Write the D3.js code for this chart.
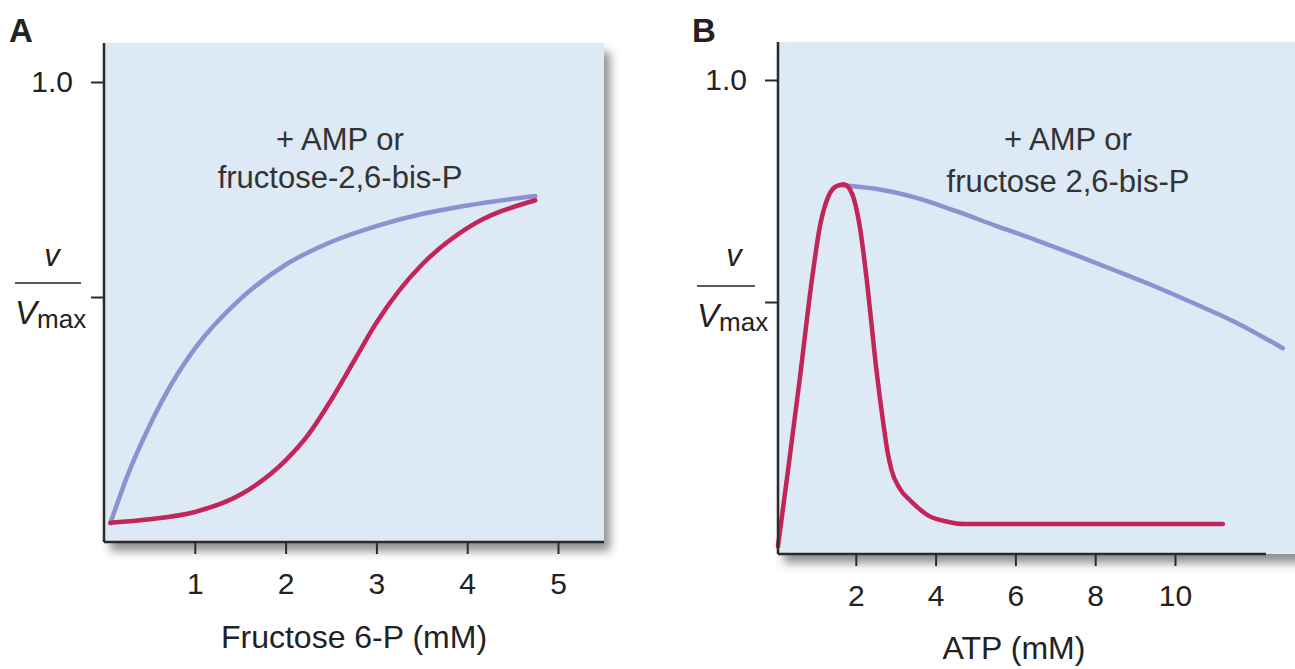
<!DOCTYPE html>
<html>
<head>
<meta charset="utf-8">
<script src="https://cdn.jsdelivr.net/npm/d3@7"></script>
<style>
    body { margin: 0; background: #fff; }
    svg { display: block; font-family: "Liberation Sans", Arial, Helvetica, sans-serif; }
</style>
</head>
<body>
<div id="chart"></div>
<script>
/* ----------------------------------------------------- Data ------------------------------------------------------------------------- */

// Panel A: v/Vmax against fructose 6-P (mM)
const aTicksX = [1, 2, 3, 4, 5];
const aBlueX = [0.07, 0.25, 0.5, 0.75, 1, 1.5, 2, 2.5, 3, 3.5, 4, 4.75];
const aBlueY = [-0.026, 0.08, 0.2, 0.3, 0.38, 0.495, 0.575, 0.628, 0.665, 0.693, 0.713, 0.735];
const aRedX = [0.07, 0.5, 1, 1.5, 2, 2.25, 2.5, 2.75, 3, 3.25, 3.5, 4, 4.75];
const aRedY = [-0.025, -0.017, 0.0, 0.04, 0.12, 0.18, 0.26, 0.35, 0.44, 0.515, 0.575, 0.66, 0.725];

// Panel B: v/Vmax against ATP (mM)
const bTicksX = [2, 4, 6, 8, 10];
const bBlueX = [1.6, 2.5, 3.5, 4.5, 5.5, 6.5, 7.5, 8.5, 9.5, 10.5, 11.5, 12.7];
const bBlueY = [0.763, 0.755, 0.735, 0.705, 0.672, 0.64, 0.606, 0.571, 0.535, 0.496, 0.455, 0.396];
const bRedX = [0.05, 0.3, 0.6, 0.9, 1.1, 1.3, 1.5, 1.7, 1.9, 2.1, 2.3, 2.5, 2.7, 2.8, 2.9, 3.1, 3.4, 3.8, 4.3, 4.7, 11.2];
const bRedY = [-0.05, 0.12, 0.33, 0.55, 0.67, 0.735, 0.76, 0.765, 0.745, 0.67, 0.53, 0.36, 0.22, 0.16, 0.12, 0.08, 0.05, 0.02, 0.005, 0.0, 0.0];

const ticksY = [0.5, 1.0];
const annotationA = ['+ AMP or', 'fructose-2,6-bis-P'];
const annotationB = ['+ AMP or', 'fructose 2,6-bis-P'];

/* ----------------------------------------------------- Drawing ---------------------------------------------------------------------- */

const width = 1295, height = 669;
const blue = '#8e90d0', red = '#c3245a', boxFill = '#dde9f5', axisColor = '#2b2b2b';

const svg = d3.select('#chart').append('svg')
    .attr('width', width)
    .attr('height', height);

const defs = svg.append('defs');
defs.append('filter')
    .attr('id', 'shadow')
    .attr('x', '-10%').attr('y', '-10%')
    .attr('width', '130%').attr('height', '130%')
    .append('feDropShadow')
    .attr('dx', 6).attr('dy', 9)
    .attr('stdDeviation', 5)
    .attr('flood-color', '#444')
    .attr('flood-opacity', 0.6);

function drawPanel(opt) {
    const g = svg.append('g');
    const x = opt.x, y = opt.y;

    // background box with drop shadow
    g.append('rect')
        .attr('x', opt.box[0]).attr('y', opt.box[1])
        .attr('width', opt.box[2] - opt.box[0])
        .attr('height', opt.box[3] - opt.box[1])
        .attr('fill', boxFill)
        .attr('filter', 'url(#shadow)');

    // curves
    const line = d3.line()
        .x(d => x(d[0]))
        .y(d => y(d[1]))
        .curve(d3.curveMonotoneX);

    opt.series.forEach(s => {
        g.append('path')
            .datum(d3.zip(s.xs, s.ys))
            .attr('d', line)
            .attr('fill', 'none')
            .attr('stroke', s.color)
            .attr('stroke-width', 4.5)
            .attr('stroke-linecap', 'round')
            .attr('stroke-linejoin', 'round');
    });

    // axes
    const xAxis = g.append('g')
        .attr('transform', `translate(0, ${opt.axisY})`)
        .call(d3.axisBottom(x).tickValues(opt.ticksX).tickFormat(d3.format('d'))
            .tickSize(12).tickSizeOuter(0).tickPadding(19));
    xAxis.select('.domain').remove();

    const yAxis = g.append('g')
        .attr('transform', `translate(${opt.axisX}, 0)`)
        .call(d3.axisLeft(y).tickValues(ticksY).tickFormat(d => d === 1 ? '1.0' : '')
            .tickSize(13).tickSizeOuter(0).tickPadding(18));
    yAxis.select('.domain').remove();

    [xAxis, yAxis].forEach(a => {
        a.selectAll('line').attr('stroke', axisColor).attr('stroke-width', 2);
        a.selectAll('text')
            .attr('fill', '#222')
            .style('font-size', '30px')
            .style('font-family', '"Liberation Sans", Arial, sans-serif');
    });

    g.append('line')
        .attr('x1', opt.axisX).attr('x2', opt.axisX)
        .attr('y1', opt.box[1]).attr('y2', opt.axisY)
        .attr('stroke', axisColor).attr('stroke-width', 2.5);
    g.append('line')
        .attr('x1', opt.axisX).attr('x2', opt.axisEnd)
        .attr('y1', opt.axisY).attr('y2', opt.axisY)
        .attr('stroke', axisColor).attr('stroke-width', 2.5);

    // panel letter
    g.append('text')
        .attr('x', opt.letterX).attr('y', 42)
        .style('font-size', '33px')
        .style('font-weight', 'bold')
        .attr('fill', '#222')
        .text(opt.letter);

    // v / Vmax label
    const lx = opt.fracX;
    g.append('text')
        .attr('x', lx + 37).attr('y', 266)
        .attr('text-anchor', 'middle')
        .style('font-size', '31px')
        .style('font-style', 'italic')
        .attr('fill', '#222')
        .text('v');
    g.append('line')
        .attr('x1', lx).attr('x2', lx + opt.fracW)
        .attr('y1', opt.fracY).attr('y2', opt.fracY)
        .attr('stroke', '#222').attr('stroke-width', 1.6);
    const vmax = g.append('text')
        .attr('x', lx).attr('y', opt.fracY + 41)
        .attr('fill', '#222');
    vmax.append('tspan')
        .style('font-size', '33px')
        .style('font-style', 'italic')
        .text('V');
    vmax.append('tspan')
        .attr('dy', 4)
        .style('font-size', '26px')
        .text('max');

    // annotation
    g.selectAll('.note')
        .data(opt.note)
        .enter()
        .append('text')
        .attr('class', 'note')
        .attr('x', opt.noteX)
        .attr('y', (d, i) => opt.noteY + i * opt.noteGap)
        .attr('text-anchor', 'middle')
        .style('font-size', '31px')
        .attr('fill', '#333')
        .text(d => d);

    // x axis title
    g.append('text')
        .attr('x', opt.titleX).attr('y', opt.titleY)
        .attr('text-anchor', 'middle')
        .style('font-size', '32px')
        .attr('fill', '#222')
        .text(opt.title);
}

/* ----------------------------------------------------- Panels ----------------------------------------------------------------------- */

const xA = d3.scaleLinear().domain([0, 5]).range([104, 558]);
const yA = d3.scaleLinear().domain([0, 1]).range([512, 82]);

drawPanel({
    letter: 'A', letterX: 9,
    x: xA, y: yA,
    box: [104, 43, 604, 542],
    axisX: 104, axisY: 542, axisEnd: 604,
    ticksX: aTicksX,
    series: [
        { xs: aBlueX, ys: aBlueY, color: blue },
        { xs: aRedX, ys: aRedY, color: red }
    ],
    fracX: 15, fracW: 66, fracY: 283,
    note: annotationA, noteX: 340, noteY: 150, noteGap: 38,
    title: 'Fructose 6-P (mM)', titleX: 354, titleY: 648
});

const xB = d3.scaleLinear().domain([0, 10]).range([776, 1175]);
const yB = d3.scaleLinear().domain([0, 1]).range([524, 80]);

drawPanel({
    letter: 'B', letterX: 692,
    x: xB, y: yB,
    box: [778, 42, 1300, 554],
    axisX: 778, axisY: 554, axisEnd: 1266,
    ticksX: bTicksX,
    series: [
        { xs: bBlueX, ys: bBlueY, color: blue },
        { xs: bRedX, ys: bRedY, color: red }
    ],
    fracX: 697, fracW: 58, fracY: 286,
    note: annotationB, noteX: 1068, noteY: 150, noteGap: 42,
    title: 'ATP (mM)', titleX: 1014, titleY: 659
});
</script>
</body>
</html>
